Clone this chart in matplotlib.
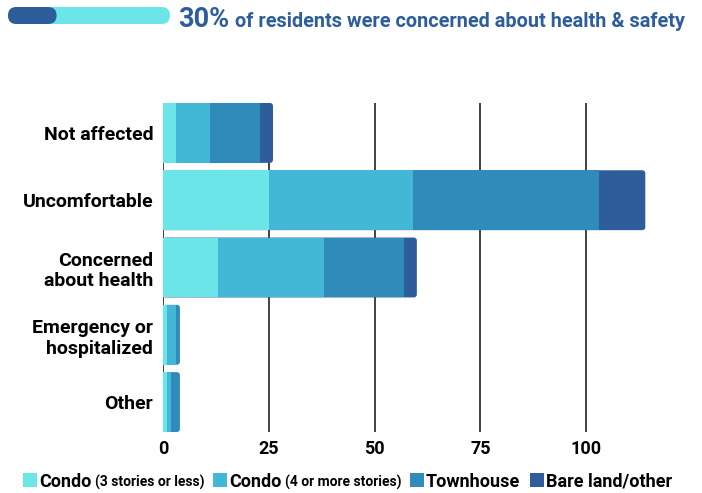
import matplotlib
matplotlib.use("Agg")
import matplotlib.pyplot as plt
from matplotlib.patches import FancyBboxPatch

# DATA
categories = ["Not affected", "Uncomfortable", "Concerned\nabout health",
              "Emergency or\nhospitalized", "Other"]
condo_low = [3, 25, 13, 1, 1]
condo_high = [8, 34, 25, 2, 1]
townhouse = [12, 44, 19, 1, 2]
bare_land = [3, 11, 3, 0, 0]
series = [condo_low, condo_high, townhouse, bare_land]
legend_main = ["Condo", "Condo", "Townhouse", "Bare land/other"]
legend_sub = ["(3 stories or less)", "(4 or more stories)", "", ""]
x_ticks = [0, 25, 50, 75, 100]
share_concerned = 30
headline = "of residents were concerned about health & safety"

colors = ["#6be5e8", "#42b8d6", "#2e8bba", "#2d5d9a"]
title_color = "#2d5d9a"
FONT = ["Liberation Sans Narrow", "Roboto", "DejaVu Sans"]
plt.rcParams["font.family"] = FONT

W, H = 702, 493
fig = plt.figure(figsize=(W / 100, H / 100), dpi=100)

# main chart axes (pixel box 163..658 x 103..432)
ax = fig.add_axes([163 / W, 1 - 432 / H, (658 - 163) / W, (432 - 103) / H])
xmax = 117
bar_h = 0.89
ax.set_xlim(0, xmax)
ax.set_ylim(len(categories) - 1 + 0.445, -0.445)

# vertical grid lines behind the bars
ax.vlines(x_ticks, *ax.get_ylim(), color="#222222", lw=1.2, zorder=0)

# rounding radius: ~3 px in both directions
px_x = (658 - 163) / xmax
px_y = (432 - 103) / (len(categories) - 1 + 0.89)
r = 3 / px_x
aspect = (3 / px_y) / r

for i in range(len(categories)):
    vals = [s[i] for s in series]
    total = sum(vals)
    last = max(k for k, v in enumerate(vals) if v > 0)
    # rounded full-length bar in the colour of the last segment
    ax.add_patch(FancyBboxPatch((0, i - bar_h / 2), total, bar_h,
                                boxstyle=f"round,pad=0,rounding_size={r}",
                                mutation_aspect=aspect, fc=colors[last],
                                ec="none", zorder=2))
    left = 0
    for k in range(last):
        ax.barh(i, vals[k], left=left, height=bar_h, color=colors[k],
                zorder=3, linewidth=0)
        left += vals[k]

ax.set_xticks(x_ticks)
ax.set_xticklabels([str(t) for t in x_ticks], fontsize=13, fontweight="bold")
ax.set_yticks(range(len(categories)))
ax.set_yticklabels(categories, fontsize=14, fontweight="bold")
ax.tick_params(length=0)
ax.tick_params(axis="x", pad=6)
ax.tick_params(axis="y", pad=7)
for s in ax.spines.values():
    s.set_visible(False)

# overlay axes in pixel units for header and legend
ov = fig.add_axes([0, 0, 1, 1])
ov.set_xlim(0, W)
ov.set_ylim(H, 0)
ov.axis("off")

# header progress pill
ov.add_patch(FancyBboxPatch((8, 7), 162, 17, boxstyle="round,pad=0,rounding_size=8.5",
                            fc=colors[0], ec="none"))
ov.add_patch(FancyBboxPatch((8, 7), 162 * share_concerned / 100, 17,
                            boxstyle="round,pad=0,rounding_size=8.5",
                            fc=colors[3], ec="none"))

fig.canvas.draw()
renderer = fig.canvas.get_renderer()


def width(t):
    return t.get_window_extent(renderer).width


t1 = ov.text(178, 27, f"{share_concerned}%", fontsize=19.5, fontweight="bold",
             color=title_color, va="baseline")
ov.text(178 + width(t1) + 6, 27, headline, fontsize=14.3, fontweight="bold",
        color=title_color, va="baseline")

# legend
leg_x = [23, 213, 410, 530]
for k in range(len(series)):
    x = leg_x[k]
    ov.add_patch(plt.Rectangle((x, 473), 14, 14, fc=colors[k], ec="none"))
    tm = ov.text(x + 16, 487, legend_main[k], fontsize=13, fontweight="bold",
                 va="baseline")
    if legend_sub[k]:
        ov.text(x + 16 + width(tm) + 4, 487, legend_sub[k], fontsize=10,
                fontweight="bold", va="baseline")

fig.savefig("out.png", dpi=100)
